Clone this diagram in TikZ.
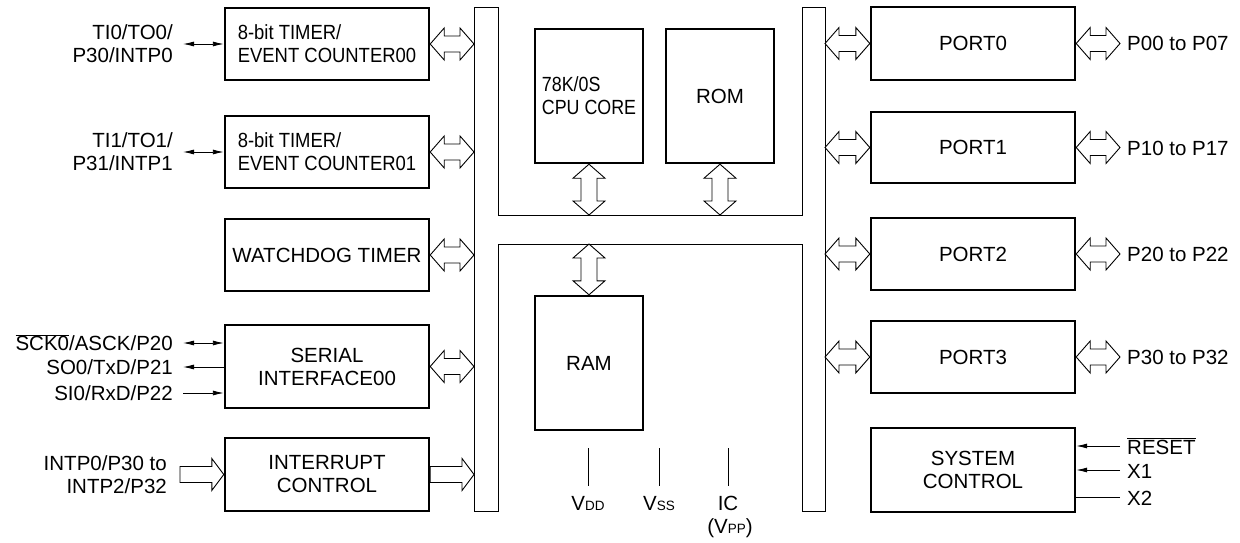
\documentclass[tikz,border=0pt]{standalone}
\usepackage{fontspec}
\setmainfont{Liberation Sans}
\newfontfamily\condA[FakeStretch=0.9]{Liberation Sans}
\newfontfamily\condB[FakeStretch=0.87]{Liberation Sans}
\usetikzlibrary{arrows.meta,calc}
\tikzset{sigtip/.tip={Latex[length=11pt,width=5pt]}}
\newcommand\dblH[2]{\draw[hol] let \p1=#1, \p2=#2 in (\x1,\y1) -- (\x1+14pt,\y1+16pt) -- (\x1+14pt,\y1+8pt) -- (\x2-14pt,\y1+8pt) -- (\x2-14pt,\y1+16pt) -- (\x2,\y1) -- (\x2-14pt,\y1-16pt) -- (\x2-14pt,\y1-8pt) -- (\x1+14pt,\y1-8pt) -- (\x1+14pt,\y1-16pt) -- cycle;}
\newcommand\sglH[2]{\draw[hol] let \p1=#1, \p2=#2 in (\x1,\y1+8pt) -- (\x2-12pt,\y1+8pt) -- (\x2-12pt,\y1+16pt) -- (\x2,\y1) -- (\x2-12pt,\y1-16pt) -- (\x2-12pt,\y1-8pt) -- (\x1,\y1-8pt) -- cycle;}
\newcommand\dblV[2]{\draw[hol] let \p1=#1, \p2=#2 in (\x1,\y1) -- (\x1+16pt,\y1-14pt) -- (\x1+8pt,\y1-14pt) -- (\x1+8pt,\y2+14pt) -- (\x1+16pt,\y2+14pt) -- (\x1,\y2) -- (\x1-16pt,\y2+14pt) -- (\x1-8pt,\y2+14pt) -- (\x1-8pt,\y1-14pt) -- (\x1-16pt,\y1-14pt) -- cycle;}
\newcommand\subsz{\fontsize{13.5}{13.5}\selectfont}
\begin{document}
\begin{tikzpicture}[x=1pt,y=-1pt,font=\fontsize{20.5}{23}\selectfont,
  box/.style={draw,line width=2.4pt,align=center,inner sep=1pt},
  lbox/.style={box,minimum width=204pt},
  hol/.style={draw,line width=0.9pt,fill=white,line join=miter},
  bus/.style={draw,line width=1pt},
  sig/.style={line width=0.9pt},
  lab/.style={inner sep=0pt}]
\useasboundingbox (0,0) rectangle (1240,543);
% bus coordinates
\coordinate (bLo) at (474,0);
\coordinate (bLi) at (498,0);
\coordinate (bRi) at (802,0);
\coordinate (bRo) at (825,0);
\coordinate (bTop) at (0,215);
\coordinate (bMid) at (0,244);
\coordinate (sx) at (183,0);
\coordinate (pout) at (1120,0);
% internal bus
\draw[bus] (474,8) -- (498,8) -- (498,215) -- (802,215) -- (802,8) -- (825,8) -- (825,511.5) -- (802,511.5) -- (802,244) -- (498,244) -- (498,511.5) -- (474,511.5) -- cycle;
% left blocks
\node[lbox,minimum height=72pt,align=left,font=\fontsize{20.5}{23}\condA] (tim0) at (327,44) {8-bit TIMER/\\EVENT COUNTER00};
\node[lbox,minimum height=72pt,align=left,font=\fontsize{20.5}{23}\condA] (tim1) at (327,152) {8-bit TIMER/\\EVENT COUNTER01};
\node[lbox,minimum height=72pt] (wdt) at (327,255) {WATCHDOG TIMER};
\node[lbox,minimum height=83pt] (ser) at (327,366.5) {SERIAL\\INTERFACE00};
\node[lbox,minimum height=73pt] (intc) at (327,474.5) {INTERRUPT\\CONTROL};
% center blocks
\node[box,minimum width=108pt,minimum height=134pt,align=left,font=\fontsize{20.5}{23}\condB] (cpu) at (589,96) {78K/0S\\CPU CORE};
\node[box,minimum width=108pt,minimum height=134pt] (rom) at (720,96) {ROM};
\node[box,minimum width=108pt,minimum height=134pt] (ram) at (589,363) {RAM};
% right blocks
\node[lbox,minimum height=73pt] (p0) at (973,43.5) {PORT0};
\node[lbox,minimum height=71pt] (p1) at (973,147.5) {PORT1};
\node[lbox,minimum height=72pt] (p2) at (973,254) {PORT2};
\node[lbox,minimum height=72pt] (p3) at (973,357) {PORT3};
\node[lbox,minimum height=84pt] (sys) at (973,470) {SYSTEM\\CONTROL};
% left bus arrows
\dblH{(tim0.east)}{(tim0.east -| bLo)}
\dblH{(tim1.east)}{(tim1.east -| bLo)}
\dblH{(wdt.east)}{(wdt.east -| bLo)}
\dblH{(ser.east)}{(ser.east -| bLo)}
\sglH{(intc.east)}{(intc.east -| bLo)}
% right bus arrows
\dblH{(p0.west -| bRo)}{(p0.west)}
\dblH{(p1.west -| bRo)}{(p1.west)}
\dblH{(p2.west -| bRo)}{(p2.west)}
\dblH{(p3.west -| bRo)}{(p3.west)}
\dblH{(p0.east)}{(p0.east -| pout)}
\dblH{(p1.east)}{(p1.east -| pout)}
\dblH{(p2.east)}{(p2.east -| pout)}
\dblH{(p3.east)}{(p3.east -| pout)}
% vertical arrows
\dblV{(cpu.south)}{(cpu.south |- bTop)}
\dblV{(rom.south)}{(rom.south |- bTop)}
\dblV{(ram.north |- bMid)}{(ram.north)}
% port labels
\node[lab,anchor=base west] (l0) at (1127,51) {P00 to P07};
\node[lab,anchor=base west] (l1) at (1127,155) {P10 to P17};
\node[lab,anchor=base west] (l2) at (1127,261.5) {P20 to P22};
\node[lab,anchor=base west] (l3) at (1127,364.5) {P30 to P32};
% system control signals
\coordinate (r1) at (1120,446);
\coordinate (r2) at (1120,470);
\coordinate (r3) at (1120,497);
\draw[sig,-sigtip] (r1) -- (r1 -| sys.east);
\draw[sig,-sigtip] (r2) -- (r2 -| sys.east);
\draw[sig] (r3) -- (r3 -| sys.east);
\node[lab,anchor=base west] (rl) at (1127,454) {$\overline{\hbox{RESET}}$};
\node[lab,anchor=base west] (x1l) at (1127,478) {X1};
\node[lab,anchor=base west] (x2l) at (1127,505) {X2};
% timer signals
\draw[sig,sigtip-sigtip] (tim0.west -| sx) -- (tim0.west);
\draw[sig,sigtip-sigtip] (tim1.west -| sx) -- (tim1.west);
\node[lab,anchor=east,align=right] (tl0) at (173,44) {TI0/TO0/\\P30/INTP0};
\node[lab,anchor=east,align=right] (tl1) at (173,152) {TI1/TO1/\\P31/INTP1};
% serial signals
\coordinate (s1) at (183,343);
\coordinate (s2) at (183,367);
\coordinate (s3) at (183,393);
\draw[sig,sigtip-sigtip] (s1) -- (s1 -| ser.west);
\draw[sig,sigtip-] (s2) -- (s2 -| ser.west);
\draw[sig,-sigtip] (s3) -- (s3 -| ser.west);
\node[lab,anchor=base east] (sl1) at (173,350.5) {$\overline{\hbox{SCK0}}$/ASCK/P20};
\node[lab,anchor=base east] (sl2) at (173,374.5) {SO0/TxD/P21};
\node[lab,anchor=base east] (sl3) at (173,400.5) {SI0/RxD/P22};
% interrupt input
\coordinate (iin) at (180,474.5);
\sglH{(iin)}{(intc.west)}
\node[lab,anchor=east,align=right] (il) at (167,475) {INTP0/P30 to\\INTP2/P32};
% power pins
\coordinate (vd) at (588,448);
\coordinate (vs) at (659,448);
\coordinate (ic) at (728,448);
\draw[sig] (vd) -- ++(0,38);
\draw[sig] (vs) -- ++(0,38);
\draw[sig] (ic) -- ++(0,38);
\node[lab,anchor=base] (vdl) at (588,510) {V{\subsz DD}};
\node[lab,anchor=base] (vsl) at (659,510) {V{\subsz SS}};
\node[lab,anchor=base] (icl) at (728,510) {IC};
\node[lab,anchor=base] (vpl) at (730,533) {(V{\subsz PP})};
\end{tikzpicture}
\end{document}
